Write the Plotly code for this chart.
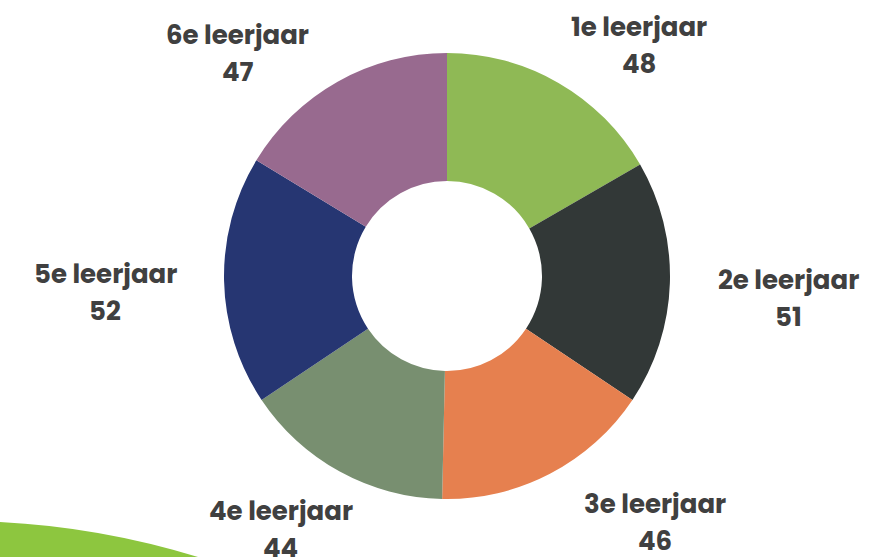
import math
import plotly.graph_objects as go

# ---- data ----
labels = ["1e leerjaar", "2e leerjaar", "3e leerjaar", "4e leerjaar", "5e leerjaar", "6e leerjaar"]
values = [48, 51, 46, 44, 52, 47]
colors = ["#8FB955", "#323837", "#E6804F", "#788F70", "#263672", "#986A8F"]

# ---- layout constants (pixels) ----
W, H = 881, 557
CX, CY, R = 447, 276, 223
HOLE = 95 / 223
# label offsets (px) from the outer-edge midpoint of each slice
label_nudge = [(80, -56), (119, -3), (105, 30), (-59, 39), (-119, -7), (-100, -47)]
LINE_GAP = 37
FONT = dict(family="Poppins, Inter, Open Sans, sans-serif", size=26, color="#404040", weight="bold")

fig = go.Figure(go.Pie(
    labels=labels, values=values, sort=False, direction="clockwise", rotation=0,
    hole=HOLE, marker=dict(colors=colors, line=dict(width=0)),
    textinfo="none", hoverinfo="label+value", showlegend=False,
    domain=dict(x=[(CX - R) / W, (CX + R) / W], y=[(H - CY - R) / H, (H - CY + R) / H]),
))

total = sum(values)
cum = 0
annotations = []
for lab, v, (dx, dy) in zip(labels, values, label_nudge):
    mid = (cum + v / 2) / total * 2 * math.pi
    cum += v
    ex = CX + R * math.sin(mid)
    ey = CY - R * math.cos(mid)
    px, py = ex + dx, ey + dy
    for txt, yy in ((lab, py), (str(v), py + LINE_GAP)):
        annotations.append(dict(
            text=txt, x=px / W, y=1 - yy / H, xref="paper", yref="paper",
            xanchor="center", yanchor="middle", showarrow=False, font=FONT,
        ))

fig.update_layout(
    width=W, height=H, margin=dict(l=0, r=0, t=0, b=0),
    paper_bgcolor="white", plot_bgcolor="white",
    annotations=annotations,
    shapes=[dict(
        type="path", xref="paper", yref="paper", layer="below",
        path=f"M 0,{1 - 522 / H} Q {100 / W},{1 - 527 / H} {198 / W},0 L 0,0 Z",
        fillcolor="#8DC63F", line=dict(width=0),
    )],
)

fig.write_html(
    "out.html",
    config={"displayModeBar": False},
    post_script="document.body.style.margin='0px';document.body.style.overflow='hidden';",
)
